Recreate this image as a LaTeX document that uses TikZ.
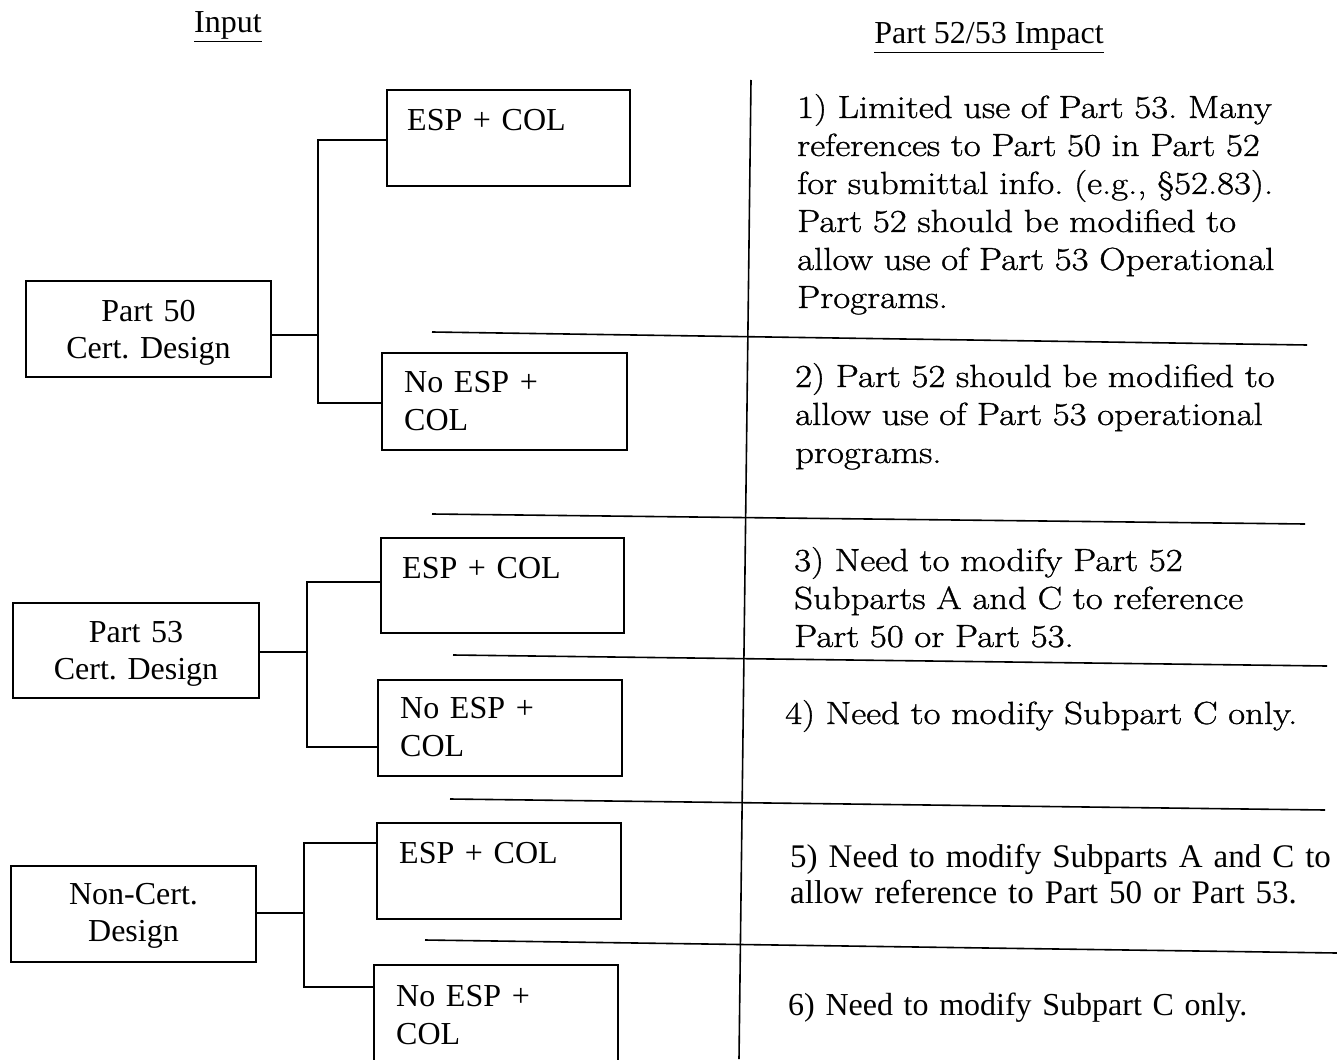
\documentclass[tikz,border=0pt]{standalone}
\usepackage{fontspec}
\setmainfont{Liberation Serif}
\newfontfamily\schfont[FakeStretch=1.15,FakeBold=1]{Latin Modern Roman}
\frenchspacing
\begin{document}
\begin{tikzpicture}[x=1pt,y=-1pt,
  box/.style={draw, line width=1.8pt, rectangle, inner sep=0pt},
  rule/.style={line width=1.6pt},
  lbl/.style={inner sep=0pt, text width=240pt, align=center, anchor=base, font=\fontsize{32}{37}\selectfont},
  boxtxt/.style={inner sep=0pt, text width=230pt, align=left, anchor=base west, font=\fontsize{32}{38}\selectfont},
  schtxt/.style={inner sep=0pt, text width=560pt, align=left, anchor=base west, font=\schfont\fontsize{32}{38}\selectfont},
  tmstxt/.style={inner sep=0pt, text width=560pt, align=left, anchor=base west, font=\fontsize{33}{36}\selectfont},
  head/.style={inner sep=0pt, anchor=base, font=\fontsize{32}{37}\selectfont}]
\clip (0,0) rectangle (1337,1059);
\fill[white] (0,0) rectangle (1337,1059);

% headers
\node[head] (hin) at (228,33) {\underline{Input}};
\node[head] (hout) at (989,44) {\underline{Part 52/53 Impact}};

% table rules
\draw[rule] (751,80) -- (739,1059);
\draw[rule] (432,332) -- (1307,345);
\draw[rule] (432,514) -- (1305,524);
\draw[rule] (453,655) -- (1327,666);
\draw[rule] (450,799) -- (1325,810);
\draw[rule] (425,940) -- (1337,953);

% input boxes
\node[box, minimum width=245pt, minimum height=96pt] (b1) at (148.5,329) {};
\node[box, minimum width=246pt, minimum height=95pt] (b2) at (136,650.5) {};
\node[box, minimum width=245pt, minimum height=96pt] (b3) at (133.5,914) {};
\node[lbl] (tb1) at (148.5,321) {Part 50\\Cert. Design};
\node[lbl] (tb2) at (136,642) {Part 53\\Cert. Design};
\node[lbl] (tb3) at (133.5,904) {Non-Cert.\\Design};

% option boxes
\node[box, minimum width=243pt, minimum height=96pt] (r1) at (508.5,138) {};
\node[box, minimum width=245pt, minimum height=97pt] (r2) at (504.5,401.5) {};
\node[box, minimum width=243pt, minimum height=95pt] (r3) at (502.5,585.5) {};
\node[box, minimum width=244pt, minimum height=96pt] (r4) at (500,728) {};
\node[box, minimum width=244pt, minimum height=96pt] (r5) at (499,871) {};
\node[box, minimum width=244pt, minimum height=110pt] (r6) at (496,1020) {};
\node[boxtxt] (tr1) at (407,131) {ESP + COL};
\node[boxtxt] (tr2) at (404,392) {No ESP +\\COL};
\node[boxtxt] (tr3) at (402,578) {ESP + COL};
\node[boxtxt] (tr4) at (400,718) {No ESP +\\COL};
\node[boxtxt] (tr5) at (399,863) {ESP + COL};
\node[boxtxt] (tr6) at (396,1006) {No ESP +\\COL};

% connectors
\coordinate (j1) at (318,335); \coordinate (j1a) at (318,140); \coordinate (j1b) at (318,403);
\draw[rule] (b1.east |- j1) -- (j1);
\draw[rule] (r1.west |- j1a) -- (j1a) -- (j1b) -- (r2.west |- j1b);
\coordinate (j2) at (307,652); \coordinate (j2a) at (307,582); \coordinate (j2b) at (307,747);
\draw[rule] (b2.east |- j2) -- (j2);
\draw[rule] (r3.west |- j2a) -- (j2a) -- (j2b) -- (r4.west |- j2b);
\coordinate (j3) at (304,913); \coordinate (j3a) at (304,843); \coordinate (j3b) at (304,987);
\draw[rule] (b3.east |- j3) -- (j3);
\draw[rule] (r5.west |- j3a) -- (j3a) -- (j3b) -- (r6.west |- j3b);

% impact texts
\node[schtxt] (i1) at (797,118) {1) Limited use of Part 53. Many\\references to Part 50 in Part 52\\for submittal info. (e.g., \S52.83).\\Part 52 should be modified to\\allow use of Part 53 Operational\\Programs.};
\node[schtxt] (i2) at (795,387) {2) Part 52 should be modified to\\allow use of Part 53 operational\\programs.};
\node[schtxt] (i3) at (794,571) {3) Need to modify Part 52\\Subparts A and C to reference\\Part 50 or Part 53.};
\node[schtxt] (i4) at (785,724) {4) Need to modify Subpart C only.};
\node[tmstxt] (i5) at (790,867) {5) Need to modify Subparts A and C to\\allow reference to Part 50 or Part 53.};
\node[tmstxt, font=\fontsize{32}{36}\selectfont] (i6) at (788,1015) {6) Need to modify Subpart C only.};
\end{tikzpicture}
\end{document}
